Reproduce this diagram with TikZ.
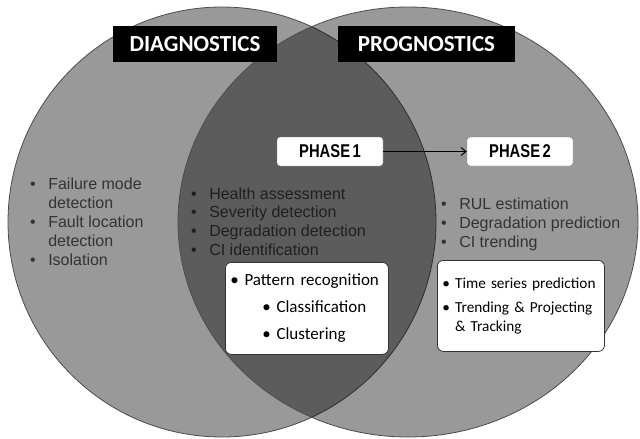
\documentclass[tikz,border=0pt]{standalone}
\usepackage{graphicx}
\usepackage{fontspec}
\setmainfont{Liberation Sans}
\newfontfamily\calibri{Carlito}
\usetikzlibrary{shapes.geometric,arrows.meta}
\hyphenpenalty=10000

\begin{document}
\begin{tikzpicture}[x=1pt,y=-1pt,
  venn/.style={ellipse,draw=black!70,line width=0.8pt,fill=black,fill opacity=0.4,draw opacity=1,inner sep=0pt,outer sep=0pt},
  title/.style={fill=black,text=white,font=\calibri\bfseries\fontsize{23}{26}\selectfont,minimum height=36,inner sep=0pt},
  phase/.style={draw=black!55,fill=white,rounded corners=3pt,minimum width=106,minimum height=29,inner sep=0pt,font=\bfseries\fontsize{18.5}{20}\selectfont},
  items/.style={text=black!80,inner sep=0pt,anchor=base west},
  tool/.style={draw=black!80,fill=white,rounded corners=6pt,line width=0.8pt,align=left,inner ysep=0pt,anchor=north west}]
    \useasboundingbox (0,0) rectangle (640,439);

    % the two fields
    \node[venn,minimum width=428,minimum height=430] at (222,222) (diag) {};
    \node[venn,minimum width=460,minimum height=430] at (408,222) (prog) {};

    \node[title,minimum width=164] at (195,44) (diagtitle) {DIAGNOSTICS};
    \node[title,minimum width=177] at (426.5,44) (progtitle) {PROGNOSTICS};

    % phases
    \node[phase] at (330,151.5) (p1) {\scalebox{0.8}[1]{PHASE\,1}};
    \node[phase] at (520,151.5) (p2) {\scalebox{0.8}[1]{PHASE\,2}};
    \draw[-{Straight Barb[length=5pt,width=8pt]},line width=1pt] (p1) -- (p2);

    % bullet lists
    \node[items,font=\fontsize{16}{19.2}\selectfont] at (30,189) (diaglist)
      {\begin{tabular}[t]{@{}l@{\hspace{12.5pt}}l@{}}
        • & Failure mode\\ & detection\\
        • & Fault location\\ & detection\\
        • & Isolation
      \end{tabular}};
    \node[items,text=black!88,font=\fontsize{16}{18.7}\selectfont] at (191,199) (bothlist)
      {\begin{tabular}[t]{@{}l@{\hspace{12.5pt}}l@{}}
        • & Health assessment\\
        • & Severity detection\\
        • & Degradation detection\\
        • & CI identification
      \end{tabular}};
    \node[items,font=\fontsize{16}{19}\selectfont] at (441,209) (proglist)
      {\begin{tabular}[t]{@{}l@{\hspace{12.5pt}}l@{}}
        • & RUL estimation\\
        • & Degradation prediction\\
        • & CI trending
      \end{tabular}};

    % methods
    \node[tool,minimum height=92,text width=153,inner xsep=5,font=\calibri\fontsize{17}{27}\selectfont] at (225,262) (pattern)
      {• Pattern recognition\\
       \hspace*{32pt}• Classification\\
       \hspace*{32pt}• Clustering};
    \node[tool,minimum height=91,text width=157,inner xsep=5,font=\calibri\fontsize{15.3}{19}\selectfont] at (437,260) (series)
      {• Time series prediction\\[5pt]
       • Trending \& Projecting\\
       \hphantom{• }\& Tracking};
  \end{tikzpicture}
\end{document}
